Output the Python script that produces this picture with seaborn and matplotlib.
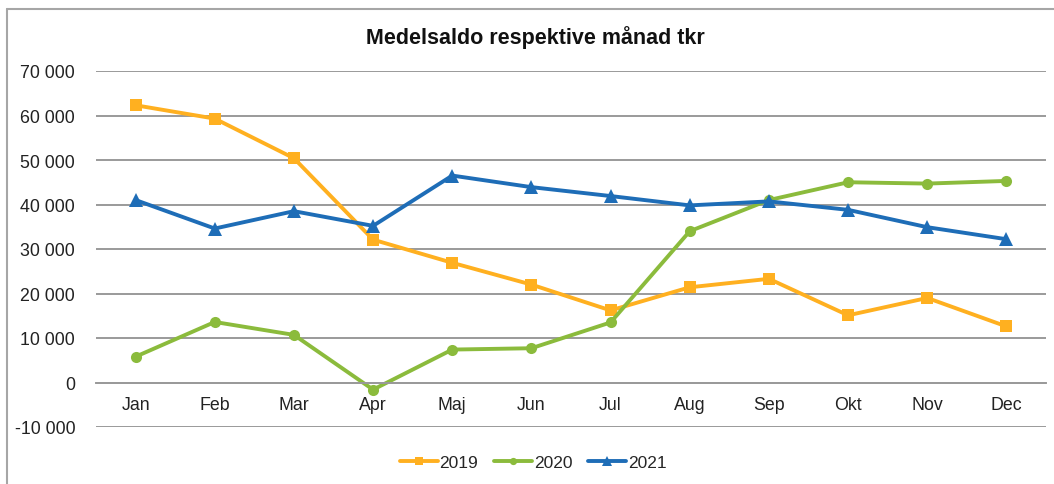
import pandas as pd
import numpy as np
import matplotlib as mpl
mpl.use("Agg")
import matplotlib.pyplot as plt
import seaborn as sns
from matplotlib.lines import Line2D
from matplotlib.ticker import FuncFormatter, MultipleLocator

### DATA ###
months = ["Jan", "Feb", "Mar", "Apr", "Maj", "Jun", "Jul", "Aug", "Sep", "Okt", "Nov", "Dec"]
saldo_2019 = [62300, 59300, 50400, 32100, 26900, 22000, 16200, 21400, 23300, 15100, 19000, 12600]
saldo_2020 = [5800, 13600, 10700, -1600, 7400, 7700, 13500, 34000, 41000, 45000, 44700, 45300]
saldo_2021 = [41000, 34600, 38500, 35200, 46500, 43900, 41900, 39800, 40700, 38800, 34900, 32200]
years = ["2019", "2020", "2021"]

### STYLE ###
sns.set_theme(style="white")
plt.rcParams["font.family"] = ["Liberation Sans", "DejaVu Sans"]
colors = {"2019": "#FFB020", "2020": "#8BBB3C", "2021": "#1E6DB7"}
markers = {"2019": "s", "2020": "o", "2021": "^"}
msizes = {"2019": 8, "2020": 8, "2021": 10}

df = pd.DataFrame({
    "Month": months * 3,
    "Saldo": saldo_2019 + saldo_2020 + saldo_2021,
    "Year": [y for y in years for _ in months],
})

fig = plt.figure(figsize=(10.54, 4.85), dpi=100)
ax = fig.add_axes([96 / 1054, 1 - 428 / 485, 950 / 1054, 356 / 485])

for year in years:
    sub = df[df["Year"] == year]
    sns.lineplot(data=sub, x="Month", y="Saldo", sort=False, ax=ax,
                 color=colors[year], marker=markers[year], markersize=msizes[year],
                 markeredgewidth=0, linewidth=2.8, label=year)

# AXES
ax.set_xlim(-0.5, 11.5)
ax.set_ylim(-10000, 70000)
ax.yaxis.set_major_locator(MultipleLocator(10000))
ax.yaxis.set_major_formatter(FuncFormatter(lambda v, p: f"{v:,.0f}".replace(",", " ")))
ax.grid(axis="y", color="#9A9A9A", linewidth=1.4)
ax.set_axisbelow(True)
for s in ["top", "right", "left"]:
    ax.spines[s].set_visible(False)
ax.spines["bottom"].set_position(("data", 0))
ax.spines["bottom"].set_color("#9A9A9A")
ax.spines["bottom"].set_linewidth(1.4)
ax.tick_params(axis="both", length=0, labelsize=12.8, labelcolor="#222222")
ax.tick_params(axis="y", pad=15)
ax.tick_params(axis="x", pad=10)
ax.set_xlabel("")
ax.set_ylabel("")

# TITLE
fig.text(535 / 1054, 1 - 38 / 485, "Medelsaldo respektive månad tkr", ha="center", va="center",
         fontsize=15.5, fontweight="bold", color="#111111")

# LEGEND
handles, labels = ax.get_legend_handles_labels()
ax.legend(handles, labels, loc="center", bbox_to_anchor=(533 / 1054, 1 - 463 / 485),
          bbox_transform=fig.transFigure, ncol=3, frameon=False, fontsize=12.5,
          handlelength=2.2, handletextpad=0.1, columnspacing=0.9, markerscale=0.65)

# CHART FRAME (left and top edges visible)
fig.add_artist(Line2D([7 / 1054, 7 / 1054], [0, 1 - 10 / 485], transform=fig.transFigure,
                      color="#A6A6A6", linewidth=1.5))
fig.add_artist(Line2D([7 / 1054, 1], [1 - 10 / 485, 1 - 10 / 485], transform=fig.transFigure,
                      color="#A6A6A6", linewidth=1.5))

plt.savefig("out.png", dpi=100)
